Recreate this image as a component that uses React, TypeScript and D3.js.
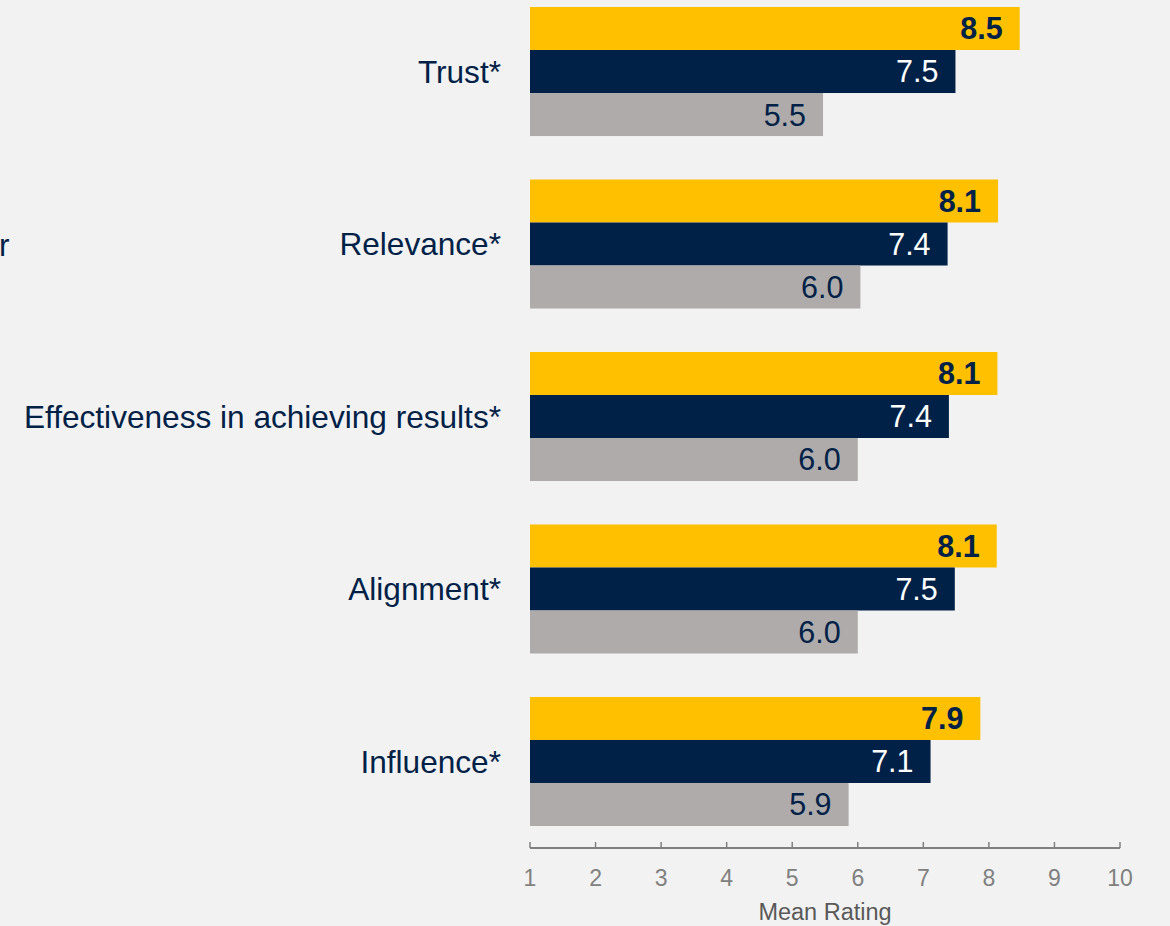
import React from "react";
import * as d3 from "d3";

const categories = ["Trust*", "Relevance*", "Effectiveness in achieving results*", "Alignment*", "Influence*"];
const seriesNames = ["Yellow", "Navy", "Gray"];
const yellowValues = [8.47, 8.14, 8.13, 8.12, 7.87];
const navyValues = [7.49, 7.37, 7.39, 7.48, 7.11];
const grayValues = [5.47, 6.04, 6.0, 6.0, 5.86];
const tickValues = [1, 2, 3, 4, 5, 6, 7, 8, 9, 10];
const axisTitle = "Mean Rating";
const strayText = "r";

const seriesColors = ["#FFC000", "#002147", "#AFABAB"];
const labelColors = ["#002147", "#FFFFFF", "#002147"];
const labelWeights = ["bold", "normal", "normal"];

const W = 1170;
const H = 926;
const FONT = "Arial, 'Liberation Sans', sans-serif";

export default function App() {
  const x = d3.scaleLinear().domain([1, 10]).range([530, 1120]);
  const y0 = d3.scaleBand<string>().domain(categories).range([7, 826]).paddingInner(0.252).paddingOuter(0);
  const y1 = d3.scaleBand<string>().domain(seriesNames).range([0, y0.bandwidth()]).padding(0);
  const series = [yellowValues, navyValues, grayValues];
  const axisY = 848;

  return (
    <svg
      width={W}
      height={H}
      style={{ position: "absolute", left: 0, top: 0, display: "block", background: "#F2F2F2", fontFamily: FONT }}
    >
      <rect x={0} y={0} width={W} height={H} fill="#F2F2F2" />
      <text x={-1} y={256} fontSize={31.5} fill="#002147">{strayText}</text>
      {categories.map((c, i) => {
        const gy = y0(c)!;
        return (
          <g key={c}>
            {series.map((vals, s) => {
              const by = gy + y1(seriesNames[s])!;
              const bh = y1.bandwidth();
              const xe = x(vals[i]);
              return (
                <g key={s}>
                  <rect x={x(1)} y={by} width={xe - x(1)} height={bh} fill={seriesColors[s]} />
                  <text
                    x={xe - 17}
                    y={by + bh / 2}
                    dy="0.36em"
                    textAnchor="end"
                    fontSize={30.5}
                    fontWeight={labelWeights[s]}
                    fill={labelColors[s]}
                  >
                    {vals[i].toFixed(1)}
                  </text>
                </g>
              );
            })}
            <text
              x={501}
              y={gy + y1("Navy")! + y1.bandwidth() / 2}
              dy="0.36em"
              textAnchor="end"
              fontSize={31.6}
              fill="#002147"
            >
              {c}
            </text>
          </g>
        );
      })}
      <line x1={x(1)} x2={x(10)} y1={axisY} y2={axisY} stroke="#808080" strokeWidth={2} />
      {tickValues.map((t) => (
        <g key={t}>
          <line x1={x(t)} x2={x(t)} y1={axisY - 6} y2={axisY} stroke="#808080" strokeWidth={1.5} />
          <text x={x(t)} y={886} textAnchor="middle" fontSize={23} fill="#808080">
            {t}
          </text>
        </g>
      ))}
      <text x={(x(1) + x(10)) / 2} y={920} textAnchor="middle" fontSize={23.5} fill="#595959">
        {axisTitle}
      </text>
    </svg>
  );
}
